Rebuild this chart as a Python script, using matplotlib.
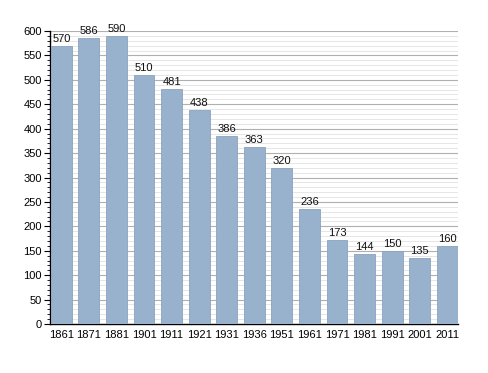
import matplotlib
matplotlib.use("Agg")
import matplotlib.pyplot as plt
from matplotlib.ticker import MultipleLocator

years = ["1861", "1871", "1881", "1901", "1911", "1921", "1931", "1936", "1951",
         "1961", "1971", "1981", "1991", "2001", "2011"]
population = [570, 586, 590, 510, 481, 438, 386, 363, 320, 236, 173, 144, 150, 135, 160]

plt.rcParams['font.family'] = ['Liberation Sans', 'DejaVu Sans']

fig = plt.figure(figsize=(4.88, 3.73), dpi=100)
ax = fig.add_axes([50/488, 49/373, 408/488, 293/373])

x = list(range(len(years)))
ax.bar(x, population, width=0.76, color="#98b2cd", edgecolor="#8aa3bd", linewidth=0.6, zorder=3)
for xi, v in zip(x, population):
    ax.text(xi, v + 4, str(v), ha="center", va="bottom", fontsize=8, color="#111111", zorder=4)

ax.set_xlim(-0.41, len(years) - 0.61)
ax.set_ylim(0, 600)
ax.set_xticks(x)
ax.set_xticklabels(years)
ax.yaxis.set_major_locator(MultipleLocator(50))
ax.yaxis.set_minor_locator(MultipleLocator(10))
ax.grid(axis="y", which="major", color="#b0b0b0", linewidth=0.8, zorder=1)
ax.grid(axis="y", which="minor", color="#e2e2e2", linewidth=0.6, zorder=1)
ax.tick_params(axis="x", length=0, labelsize=8, pad=4)
ax.tick_params(axis="y", which="major", length=4, width=0.8, labelsize=8, pad=2)
ax.tick_params(axis="y", which="minor", length=2, width=0.6)
for s in ["top", "right"]:
    ax.spines[s].set_visible(False)
ax.spines["left"].set_linewidth(1.0)
ax.spines["bottom"].set_linewidth(1.0)

fig.savefig("out.png", dpi=100)
